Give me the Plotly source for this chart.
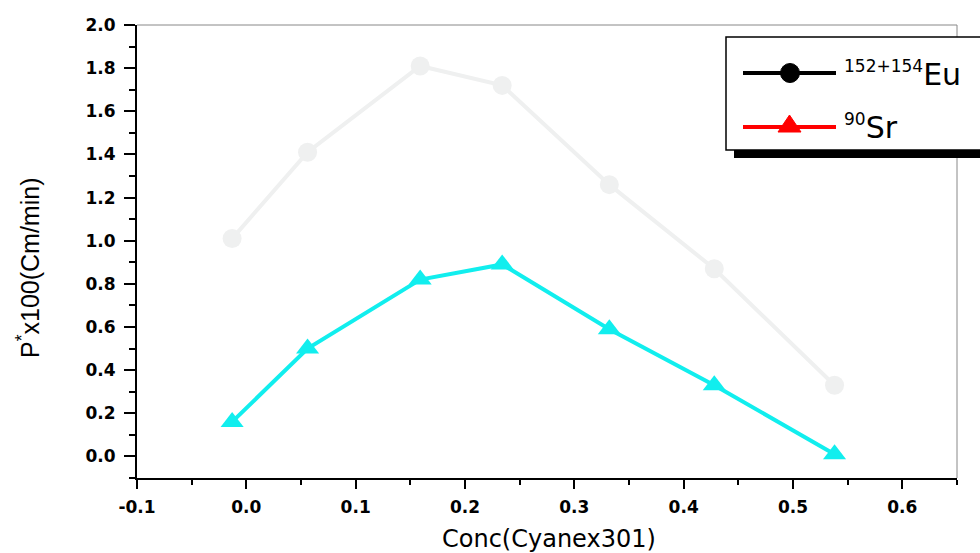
import plotly.graph_objects as go

# ---- data ----
conc = [-0.013, 0.056, 0.159, 0.234, 0.332, 0.428, 0.538]
eu_values = [1.01, 1.41, 1.81, 1.72, 1.26, 0.87, 0.33]
sr_values = [0.16, 0.50, 0.82, 0.89, 0.59, 0.33, 0.01]
x_ticks = [-0.1, 0.0, 0.1, 0.2, 0.3, 0.4, 0.5, 0.6]
y_ticks = [0.0, 0.2, 0.4, 0.6, 0.8, 1.0, 1.2, 1.4, 1.6, 1.8, 2.0]

W, H = 980, 553
L, R, T, B = 137, 23, 25, 75
PW, PH = W - L - R, H - T - B

def px(x):
    return (x - L) / PW

def py(y):
    return (H - B - y) / PH

TICKFONT = "DejaVu Sans, sans-serif"
TEXTFONT = "DejaVu Sans, sans-serif"
ARIAL = "Liberation Sans, Arial, sans-serif"

fig = go.Figure()
fig.add_trace(go.Scatter(
    x=conc, y=eu_values, mode="lines+markers", showlegend=False,
    line=dict(color="#eff0f0", width=4),
    marker=dict(symbol="circle", size=19, color="#eff0f0"),
))
fig.add_trace(go.Scatter(
    x=conc, y=sr_values, mode="lines+markers", showlegend=False,
    line=dict(color="#11eeee", width=4),
    marker=dict(symbol="triangle-up", size=20, color="#11eeee"),
))

axis_common = dict(
    showgrid=False, zeroline=False, ticks="outside",
    tickfont=dict(family=TICKFONT, size=17, color="black", weight="bold"),
    linecolor="black", linewidth=2, mirror=False, tickcolor="black",
)
fig.update_xaxes(
    range=[-0.1, 0.65], tickvals=x_ticks,
    ticktext=[f"{v:.1f}" for v in x_ticks], ticklen=9, tickwidth=1.5,
    ticklabelstandoff=4,
    minor=dict(dtick=0.05, tick0=0, ticks="outside", ticklen=5, tickcolor="black"),
    **axis_common,
)
fig.update_yaxes(
    range=[-0.1, 2.0], tickvals=y_ticks,
    ticktext=[f"{v:.1f}" for v in y_ticks], ticklen=11, tickwidth=1.5,
    ticklabelstandoff=5,
    minor=dict(dtick=0.1, tick0=0, ticks="outside", ticklen=6, tickcolor="black"),
    **axis_common,
)

shapes = []
# frame top & right
shapes.append(dict(type="line", xref="paper", yref="paper", x0=0, x1=1, y0=1, y1=1,
                   line=dict(color="#888888", width=1)))
shapes.append(dict(type="line", xref="paper", yref="paper", x0=1, x1=1, y0=0, y1=1,
                   line=dict(color="#888888", width=1)))
# legend shadow and box
shapes.append(dict(type="rect", xref="paper", yref="paper", x0=px(734), x1=px(1000),
                   y0=py(158), y1=py(148), fillcolor="black", line=dict(width=0)))
shapes.append(dict(type="rect", xref="paper", yref="paper", x0=px(726), x1=px(1000),
                   y0=py(150), y1=py(37), fillcolor="white", line=dict(color="black", width=1.5)))
# legend samples
shapes.append(dict(type="line", xref="paper", yref="paper", x0=px(743), x1=px(836),
                   y0=py(73), y1=py(73), line=dict(color="black", width=4)))
shapes.append(dict(type="circle", xref="paper", yref="paper", x0=px(780.5), x1=px(799.5),
                   y0=py(82.5), y1=py(63.5), fillcolor="black", line=dict(color="black", width=1)))
shapes.append(dict(type="line", xref="paper", yref="paper", x0=px(743), x1=px(836),
                   y0=py(127), y1=py(127), line=dict(color="red", width=4)))
shapes.append(dict(type="path", xref="paper", yref="paper",
                   path=f"M {px(778)} {py(132)} L {px(801)} {py(132)} L {px(789.5)} {py(115)} Z",
                   fillcolor="red", line=dict(color="red", width=1)))

annotations = [
    dict(text='<sup><span style="font-size:17px">152+154</span></sup>Eu',
         xref="paper", yref="paper", x=px(842), y=py(74),
         xanchor="left", yanchor="middle", showarrow=False,
         font=dict(family=TEXTFONT, size=30, color="black")),
    dict(text='<sup><span style="font-size:17px">90</span></sup>Sr',
         xref="paper", yref="paper", x=px(842), y=py(127),
         xanchor="left", yanchor="middle", showarrow=False,
         font=dict(family=TEXTFONT, size=30, color="black")),
    dict(text="Conc(Cyanex301)", xref="paper", yref="paper", x=px(549), y=py(523),
         xanchor="center", yanchor="top", showarrow=False,
         font=dict(family=TEXTFONT, size=24, color="black")),
    dict(text="P<sup>*</sup>x100(Cm/min)", xref="paper", yref="paper", x=px(28), y=py(268),
         xanchor="center", yanchor="middle", showarrow=False, textangle=-90,
         font=dict(family=ARIAL, size=25, color="black")),
]

fig.update_layout(
    width=W, height=H,
    margin=dict(l=L, r=R, t=T, b=B),
    plot_bgcolor="white", paper_bgcolor="white",
    shapes=shapes, annotations=annotations,
    showlegend=False,
)

fig.write_html("out.html", config={"displayModeBar": False},
               post_script="document.body.style.margin='0';")
